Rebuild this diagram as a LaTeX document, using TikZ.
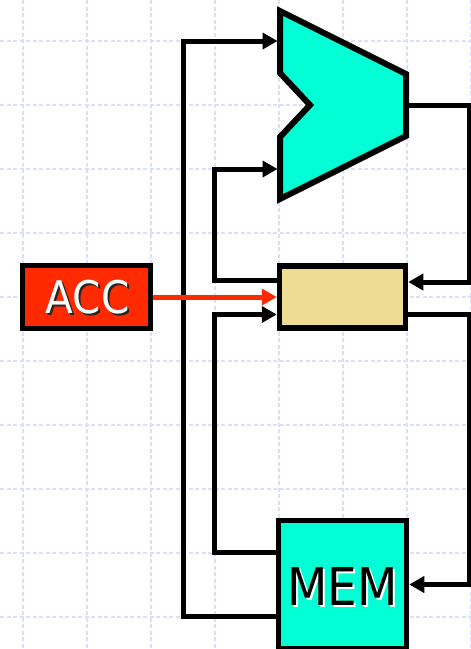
\documentclass[tikz,border=0pt]{standalone}
\usepackage{fontspec}
\setmainfont{DejaVu Sans}[FakeStretch=0.9]
\usetikzlibrary{arrows.meta}
\definecolor{aluteal}{RGB}{0,255,213}
\definecolor{latchtan}{RGB}{238,220,148}
\definecolor{accred}{RGB}{255,42,0}
\definecolor{gridblue}{RGB}{218,224,251}

\begin{document}
\begin{tikzpicture}[x=1pt, y=-1pt, >={Triangle[length=15pt,width=16pt]},
  box/.style={draw, line width=5.5pt, inner sep=0pt},
  wire/.style={draw, line width=5pt},
  gridline/.style={draw=gridblue, line width=1.3pt, dash pattern=on 4pt off 2.5pt},
  bigtext/.style={inner sep=0pt, font=\fontsize{45}{45}\selectfont}]

  \useasboundingbox (0,0) rectangle (471,649);

  % background grid
  \foreach \gx in {23,87,...,471} \draw[gridline] (\gx,0) -- (\gx,649);
  \foreach \gy in {41,105,...,617} \draw[gridline] (0,\gy) -- (471,\gy);

  % ALU
  \draw[box, line width=6pt, fill=aluteal] (280,11) -- (406,74) -- (406,136) -- (280,199)
        -- (280,137) -- (310,105) -- (280,73) -- cycle;
  \coordinate (aluA) at (277.5,41);
  \coordinate (aluB) at (277.5,169);
  \coordinate (aluY) at (409,105);

  \node[box, fill=accred, minimum width=128pt, minimum height=63pt] (acc) at (86.5,297) {};
  \node[box, fill=latchtan, minimum width=126pt, minimum height=62pt] (latch) at (342.5,297) {};
  \node[box, fill=aluteal, minimum width=128pt, minimum height=128pt] (mem) at (342.5,584.5) {};

  \node[bigtext, text=black!85] (accshadow) at ([shift={(3,2.5)}]acc.center) {ACC};
  \node[bigtext, text=white] (acctext) at ([shift={(1,0.5)}]acc.center) {ACC};
  \node[bigtext, font=\fontsize{52}{52}\selectfont, text=white] (memshadow)
        at ([shift={(2,4)}]mem.center) {MEM};
  \node[bigtext, font=\fontsize{52}{52}\selectfont, text=black] (memtext)
        at ([shift={(0,2)}]mem.center) {MEM};

  \draw[wire,->] ([yshift=-32pt]mem.west) -- ++(-92.5,0) |- (aluA);
  \draw[wire,->] ([yshift=32pt]mem.west) -- ++(-61,0) |- ([yshift=-17.5pt]latch.west);
  \draw[wire,->] ([yshift=17pt]latch.west) -- ++(-62,0) |- (aluB);
  \draw[wire,->] (aluY) -- ++(60.5,0) |- ([yshift=15pt]latch.east);
  \draw[wire,->] ([yshift=-17.5pt]latch.east) -- ++(61.5,0) |- (mem.east);
  \draw[wire, accred, ->] (acc.east) -- (latch.west);
\end{tikzpicture}
\end{document}
